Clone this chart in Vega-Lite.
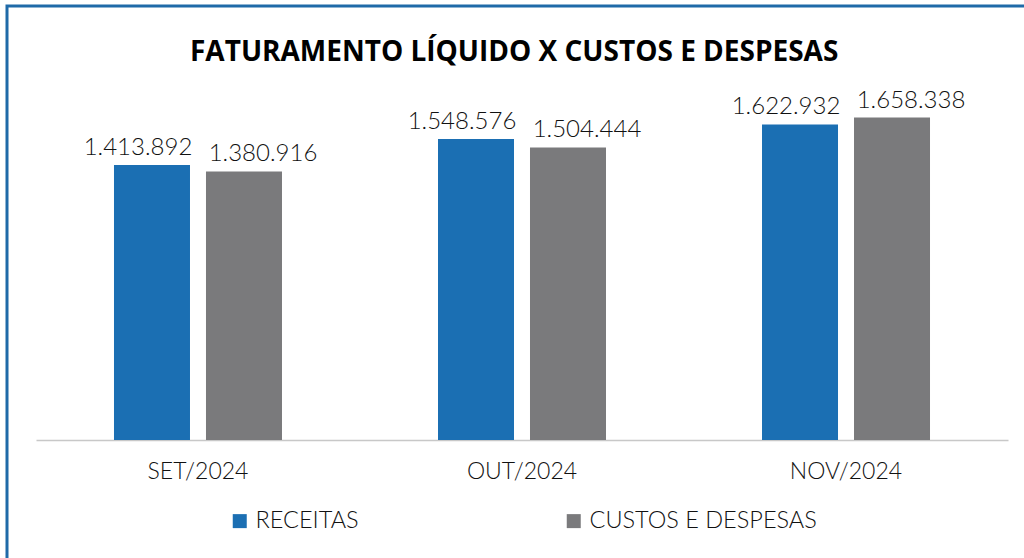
{
  "$schema": "https://vega.github.io/schema/vega-lite/v6.json",
  "autosize": "none",
  "width": 1030,
  "height": 570,
  "padding": {"left": 7, "top": 6, "right": 0, "bottom": 0},
  "background": "white",
  "config": {
    "view": {"stroke": "#1f6aa8", "strokeWidth": 3},
    "locale": {"number": {"decimal": ",", "thousands": ".", "grouping": [3], "currency": ["R$", ""]}}
  },
  "title": {
    "text": "FATURAMENTO LÍQUIDO X CUSTOS E DESPESAS",
    "anchor": "start",
    "frame": "group",
    "dx": 183,
    "dy": 65,
    "font": "Open Sans",
    "fontSize": 28,
    "fontWeight": "bold",
    "color": "#000000"
  },
  "data": {
    "values": [
      {"mes": "SET/2024", "serie": "RECEITAS", "valor": 1413892},
      {"mes": "SET/2024", "serie": "CUSTOS E DESPESAS", "valor": 1380916},
      {"mes": "OUT/2024", "serie": "RECEITAS", "valor": 1548576},
      {"mes": "OUT/2024", "serie": "CUSTOS E DESPESAS", "valor": 1504444},
      {"mes": "NOV/2024", "serie": "RECEITAS", "valor": 1622932},
      {"mes": "NOV/2024", "serie": "CUSTOS E DESPESAS", "valor": 1658338}
    ]
  },
  "encoding": {
    "x": {
      "field": "mes",
      "type": "nominal",
      "sort": ["SET/2024", "OUT/2024", "NOV/2024"],
      "scale": {"range": [29, 1001], "paddingInner": 0.4815, "paddingOuter": 0.2407},
      "axis": {
        "title": null,
        "offset": -136,
        "domainColor": "#c8c8c8",
        "domainWidth": 1.5,
        "ticks": false,
        "labelAngle": 0,
        "labelPadding": 20,
        "labelFont": "Lato",
        "labelFontWeight": 300,
        "labelFontSize": 23,
        "labelColor": "#111111"
      }
    },
    "xOffset": {
      "field": "serie",
      "type": "nominal",
      "sort": ["RECEITAS", "CUSTOS E DESPESAS"],
      "scale": {"paddingInner": 0.1739, "paddingOuter": 0}
    },
    "y": {
      "field": "valor",
      "type": "quantitative",
      "scale": {"domain": [0, 1800000], "range": [434, 84], "nice": false},
      "axis": null
    }
  },
  "layer": [
    {
      "mark": {"type": "bar"},
      "encoding": {
        "color": {
          "field": "serie",
          "type": "nominal",
          "sort": ["RECEITAS", "CUSTOS E DESPESAS"],
          "scale": {"domain": ["RECEITAS", "CUSTOS E DESPESAS"], "range": ["#1b6fb3", "#7a7a7c"]},
          "legend": {
            "title": null,
            "orient": "none",
            "direction": "horizontal",
            "legendX": 221,
            "legendY": 503,
            "symbolType": "square",
            "symbolSize": 196,
            "symbolStrokeWidth": 0,
            "labelFont": "Lato",
            "labelFontWeight": 300,
            "labelFontSize": 23.5,
            "labelColor": "#111111",
            "labelOffset": 4,
            "columnPadding": 203,
            "labelLimit": 400
          }
        }
      }
    },
    {
      "transform": [{"filter": "datum.serie === 'RECEITAS'"}],
      "mark": {"type": "text", "baseline": "bottom", "dy": -5, "dx": -14, "font": "Lato", "fontWeight": 300, "fontSize": 24, "color": "#111111"},
      "encoding": {
        "text": {"field": "valor", "type": "quantitative", "format": ",d"}
      }
    },
    {
      "transform": [{"filter": "datum.serie === 'CUSTOS E DESPESAS'"}],
      "mark": {"type": "text", "baseline": "bottom", "dy": -5, "dx": 19, "font": "Lato", "fontWeight": 300, "fontSize": 24, "color": "#111111"},
      "encoding": {
        "text": {"field": "valor", "type": "quantitative", "format": ",d"}
      }
    }
  ]
}
